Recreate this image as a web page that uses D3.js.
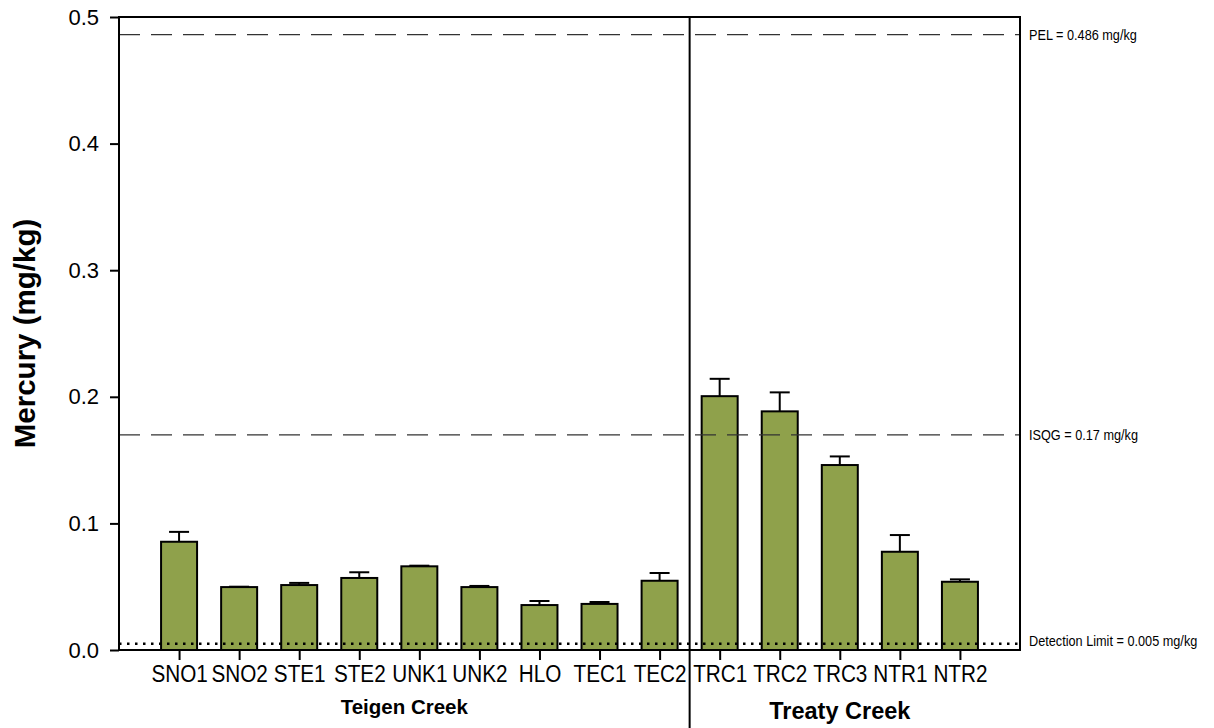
<!DOCTYPE html>
<html>
<head>
<meta charset="utf-8">
<script src="https://cdn.jsdelivr.net/npm/d3@7"></script>
<style>
  body { margin: 0; background: #fff; }
  text { font-family: "Liberation Sans", Arial, sans-serif; fill: #000; }
</style>
</head>
<body>
<div id="chart"></div>
<script>
// mercury in sediment, mean + upper error per site
var sites = ["SNO1","SNO2","STE1","STE2","UNK1","UNK2","HLO","TEC1","TEC2","TRC1","TRC2","TRC3","NTR1","NTR2"];
var mercury = [0.0855,0.0497,0.0513,0.0569,0.0661,0.0497,0.0355,0.0364,0.0547,0.2005,0.1885,0.1461,0.0776,0.0539];
var errUp = [0.0078,0.0003,0.0017,0.0045,0.0005,0.0009,0.0032,0.0015,0.0061,0.0137,0.0150,0.0068,0.0132,0.0019];

var groupNames = ["Teigen Creek","Treaty Creek"];
var groupSizes = [9,5];

var refValues = [0.486, 0.17, 0.005];
var refLabels = ["PEL = 0.486 mg/kg","ISQG = 0.17 mg/kg","Detection Limit = 0.005 mg/kg"];
var refDash = ["21,11","21,11","2.5,5.5"];

var yTicks = [0,0.1,0.2,0.3,0.4,0.5];

var margin = {top:17, right:194, bottom:78, left:119},
    width = 1214 - margin.left - margin.right,
    height = 728 - margin.top - margin.bottom;

var svg = d3.select("#chart")
    .append("svg")
    .attr("width", 1214)
    .attr("height", 728);

var g = svg.append("g")
    .attr("transform","translate(" + margin.left + "," + margin.top + ")");

var x = d3.scalePoint()
    .domain(sites)
    .range([0, width])
    .padding(1);

var y = d3.scaleLinear()
    .domain([0,0.5])
    .range([height, 0]);

// no narrow font installed: squeeze text horizontally
const narrow = function(sel, k){
    sel.each(function(){
        var w = this.getComputedTextLength();
        d3.select(this).attr("textLength", w*k).attr("lengthAdjust","spacingAndGlyphs");
    });
}

var barW = 36;
var data = sites.map(function(s,i){ return {site:s, v:mercury[i], e:errUp[i]}; });

// error bars (upper only)
var eb = g.selectAll(".err").data(data).enter().append("g").attr("class","err");
eb.append("line")
    .attr("x1",d=>x(d.site)).attr("x2",d=>x(d.site))
    .attr("y1",d=>y(d.v)).attr("y2",d=>y(d.v+d.e))
    .style("stroke","#000").style("stroke-width","2px");
eb.append("line")
    .attr("x1",d=>x(d.site)-10).attr("x2",d=>x(d.site)+10)
    .attr("y1",d=>y(d.v+d.e)).attr("y2",d=>y(d.v+d.e))
    .style("stroke","#000").style("stroke-width","2px");

g.selectAll(".bar").data(data).enter().append("rect")
    .attr("x",d=>x(d.site)-barW/2)
    .attr("y",d=>y(d.v))
    .attr("width",barW)
    .attr("height",d=>height-y(d.v))
    .style("fill","#8fa14b")
    .style("stroke","#000")
    .style("stroke-width","2px");

// reference lines
refValues.forEach(function(r,i){
    g.append("line")
        .attr("x1",0).attr("x2",width)
        .attr("y1",y(r)).attr("y2",y(r))
        .style("stroke", i==2 ? "#000" : "#333")
        .style("stroke-width", i==2 ? "2.5px" : "1.3px")
        .style("stroke-dasharray",refDash[i]);
    g.append("text")
        .attr("transform","translate(" + (width+9) + "," + (y(r) + (i==2 ? -3 : 0)) + ") scale(0.82,1)")
        .attr("dy","0.35em")
        .style("font-size","15.5px")
        .text(refLabels[i]);
});

// frame
g.append("rect")
    .attr("x",0).attr("y",0)
    .attr("width",width).attr("height",height)
    .style("fill","none")
    .style("stroke","#000")
    .style("stroke-width","2px");

// group divider
var split = (x(sites[groupSizes[0]-1]) + x(sites[groupSizes[0]]))/2;
g.append("line")
    .attr("x1",split).attr("x2",split)
    .attr("y1",0).attr("y2",728-margin.top)
    .style("stroke","#000").style("stroke-width","2px");

// axes
var yAxis = g.append("g")
    .call(d3.axisLeft(y).tickValues(yTicks).tickFormat(d3.format(".1f")).tickSize(9).tickPadding(11));
yAxis.select(".domain").remove();
yAxis.selectAll(".tick line").style("stroke-width","2px");
yAxis.selectAll(".tick text")
    .style("font-size","22px")
    .style("font-family",'"Liberation Sans", Arial');

var xAxis = g.append("g")
    .attr("transform","translate(0," + height + ")")
    .call(d3.axisBottom(x).tickSize(10).tickPadding(6));
xAxis.select(".domain").remove();
xAxis.selectAll(".tick line").style("stroke-width","2px");
xAxis.selectAll(".tick text")
    .style("font-size","23px")
    .style("font-family",'"Liberation Sans", Arial')
    .call(narrow, 0.9);

// group titles
g.append("text")
    .attr("x", split/2)
    .attr("y", height+64)
    .attr("text-anchor","middle")
    .style("font-weight","bold")
    .style("font-size","20.5px")
    .text(groupNames[0]);
g.append("text")
    .attr("x", (x(sites[groupSizes[0]]) + x(sites[sites.length-1]))/2)
    .attr("y", height+69)
    .attr("text-anchor","middle")
    .style("font-weight","bold")
    .style("font-size","23.5px")
    .text(groupNames[1]);

svg.append("text")
    .attr("transform","translate(35," + (margin.top + height/2) + ") rotate(-90)")
    .attr("text-anchor","middle")
    .style("font-weight","bold")
    .style("font-size","29.5px")
    .text("Mercury (mg/kg)");
</script>
</body>
</html>
